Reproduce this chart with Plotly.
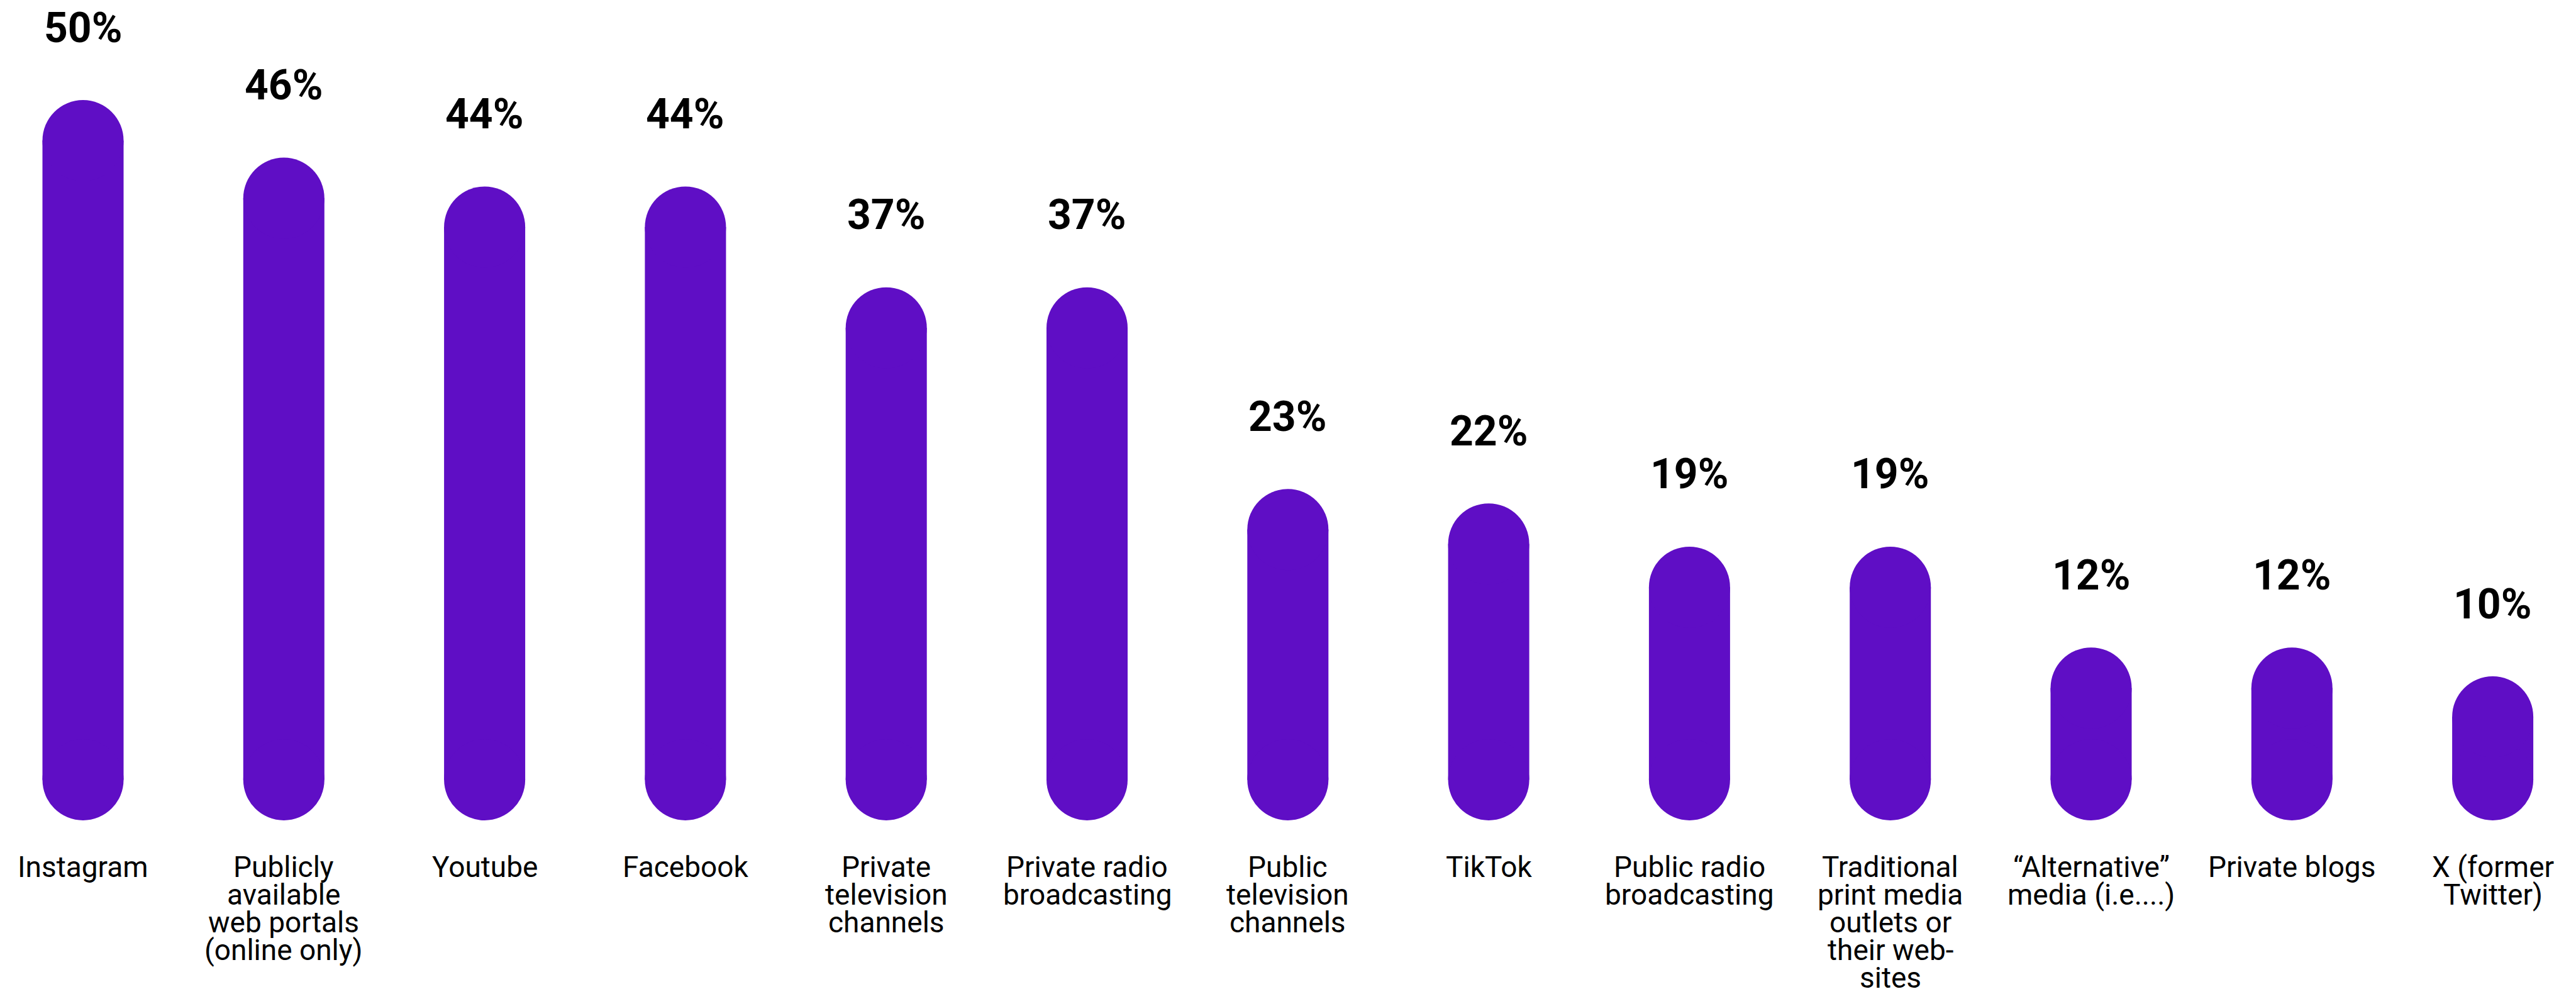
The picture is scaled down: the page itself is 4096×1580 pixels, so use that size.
import plotly.graph_objects as go

# Share of respondents per media source (%)
categories = [
    "Instagram",
    "Publicly available web portals (online only)",
    "Youtube",
    "Facebook",
    "Private television channels",
    "Private radio broadcasting",
    "Public television channels",
    "TikTok",
    "Public radio broadcasting",
    "Traditional print media outlets or their web-sites",
    "“Alternative” media (i.e....)",
    "Private blogs",
    "X (former Twitter)",
]
values = [50, 46, 44, 44, 37, 37, 23, 22, 19, 19, 12, 12, 10]

# Category labels as they wrap under each bar
label_lines = [
    ["Instagram"],
    ["Publicly", "available", "web portals", "(online only)"],
    ["Youtube"],
    ["Facebook"],
    ["Private", "television", "channels"],
    ["Private radio", "broadcasting"],
    ["Public", "television", "channels"],
    ["TikTok"],
    ["Public radio", "broadcasting"],
    ["Traditional", "print media", "outlets or", "their web-", "sites"],
    ["“Alternative”", "media (i.e....)"],
    ["Private blogs"],
    ["X (former", "Twitter)"],
]

PURPLE = "#5f0ec5"
FONT = "Roboto, 'Open Sans', sans-serif"

# Layout geometry (pixels)
FIG_W, FIG_H = 4096, 1580
PX_PER_UNIT = 22.9          # vertical pixels per percentage point
ZERO_PX = 1304              # distance of the baseline from the top
CAT_PX = 319.3              # horizontal pixels per category step
FIRST_CENTER_PX = 132       # centre of the first bar from the left edge
BAR_PX = 129                # bar thickness
LABEL_TOP = 74              # first label line below the baseline
LINE_STEP = 44              # spacing between wrapped label lines

BAR_W = BAR_PX / CAT_PX
R = (BAR_PX / 2) / PX_PER_UNIT   # cap radius in data units

fig = go.Figure()

# Pill-shaped bars: a straight body plus a round cap at each end
fig.add_trace(go.Bar(
    x=categories,
    base=[R for v in values],
    y=[v - 2 * R for v in values],
    width=BAR_W,
    marker=dict(color=PURPLE, line=dict(width=0)),
    hoverinfo="skip",
))
fig.add_trace(go.Scatter(
    x=categories + categories,
    y=[R for v in values] + [v - R for v in values],
    mode="markers",
    marker=dict(symbol="circle", size=BAR_PX, color=PURPLE, line=dict(width=0)),
    hoverinfo="skip",
))

annotations = []
for cat, v in zip(categories, values):
    annotations.append(dict(
        x=cat, y=v, xref="x", yref="y",
        text=f"{v}%", showarrow=False,
        xanchor="center", yanchor="middle", yshift=115,
        font=dict(family=FONT, size=66, color="#000000", weight="bold"),
    ))

for cat, lines in zip(categories, label_lines):
    for j, line in enumerate(lines):
        annotations.append(dict(
            x=cat, y=0, xref="x", yref="y",
            text=line, showarrow=False,
            xanchor="center", yanchor="middle", yshift=-(LABEL_TOP + j * LINE_STEP),
            font=dict(family=FONT, size=46, color="#000000"),
        ))

x0 = -FIRST_CENTER_PX / CAT_PX
fig.update_layout(
    width=FIG_W, height=FIG_H,
    margin=dict(l=0, r=0, t=0, b=0),
    paper_bgcolor="white", plot_bgcolor="white",
    barmode="overlay",
    showlegend=False,
    annotations=annotations,
    xaxis=dict(range=[x0, x0 + FIG_W / CAT_PX], showticklabels=False, showgrid=False,
               zeroline=False, showline=False, ticks=""),
    yaxis=dict(range=[-(FIG_H - ZERO_PX) / PX_PER_UNIT, ZERO_PX / PX_PER_UNIT],
               showticklabels=False, showgrid=False,
               zeroline=False, showline=False, ticks=""),
)

fig.write_html("out.html")
